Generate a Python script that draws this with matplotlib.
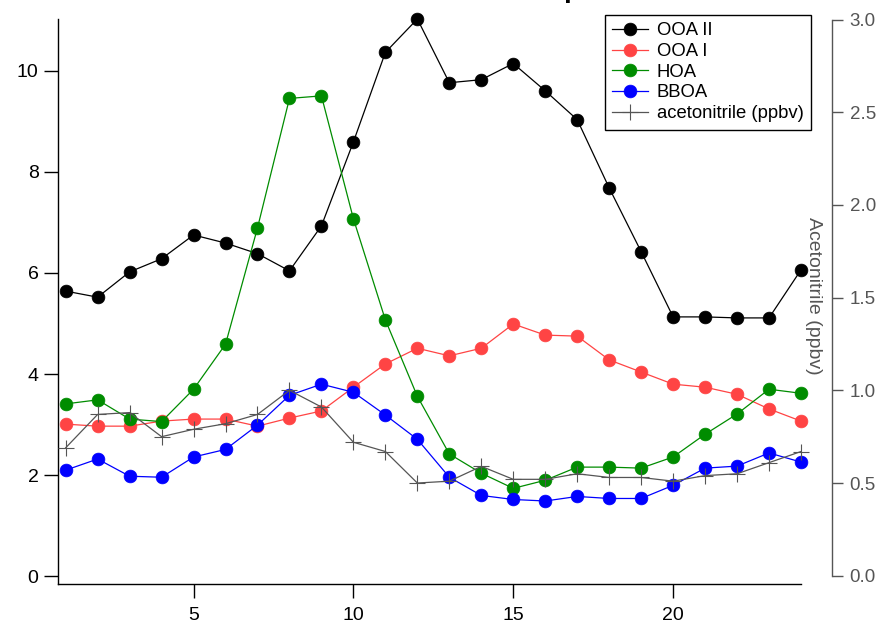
import matplotlib
matplotlib.use("Agg")
import matplotlib.pyplot as plt

plt.rcParams['font.family'] = ['Liberation Sans', 'DejaVu Sans']

hours = list(range(1, 25))

ooa2 = [5.64, 5.52, 6.02, 6.28, 6.75, 6.59, 6.38, 6.04, 6.93, 8.59, 10.36, 11.02,
        9.76, 9.82, 10.14, 9.60, 9.03, 7.68, 6.42, 5.13, 5.13, 5.11, 5.11, 6.06]
ooa1 = [3.01, 2.97, 2.97, 3.07, 3.11, 3.11, 2.97, 3.13, 3.27, 3.74, 4.20, 4.51,
        4.36, 4.51, 4.99, 4.77, 4.75, 4.28, 4.04, 3.80, 3.74, 3.60, 3.31, 3.07]
hoa = [3.41, 3.49, 3.11, 3.06, 3.70, 4.59, 6.89, 9.45, 9.50, 7.07, 5.07, 3.56,
       2.42, 2.04, 1.74, 1.90, 2.16, 2.16, 2.14, 2.36, 2.81, 3.21, 3.70, 3.62]
bboa = [2.10, 2.32, 1.98, 1.96, 2.36, 2.51, 2.99, 3.58, 3.80, 3.64, 3.19, 2.71,
        1.96, 1.60, 1.52, 1.49, 1.58, 1.54, 1.54, 1.80, 2.14, 2.18, 2.44, 2.26]
acetonitrile = [0.69, 0.87, 0.88, 0.75, 0.79, 0.82, 0.87, 1.00, 0.91, 0.72, 0.67, 0.50,
                0.51, 0.59, 0.52, 0.52, 0.55, 0.53, 0.53, 0.51, 0.54, 0.55, 0.61, 0.67]

series = [
    ('OOA II', ooa2, 'black'),
    ('OOA I', ooa1, '#ff4444'),
    ('HOA', hoa, '#008c00'),
    ('BBOA', bboa, '#0000ff'),
]

grey = '#555555'

fig = plt.figure(figsize=(8.76, 6.28), dpi=100)
ax = fig.add_axes([58 / 876, 1 - 583.7 / 628, 743 / 876, 564.7 / 628])
ax2 = ax.twinx()

handles = []
for name, vals, col in series:
    h, = ax.plot(hours, vals, color=col, lw=0.9, marker='o', ms=9.2,
                 mec=col, mew=0.5, label=name, clip_on=False)
    handles.append(h)

h, = ax2.plot(hours, acetonitrile, color=grey, lw=0.9, marker='+', ms=11,
              mew=0.8, label='acetonitrile (ppbv)', clip_on=False)
handles.append(h)

ax.set_xlim(0.76, 24.0)
ax.set_ylim(-0.145, 11.02)
ax2.set_ylim(-0.043, 3.003)

ax.set_xticks([5, 10, 15, 20])
ax.set_yticks([0, 2, 4, 6, 8, 10])
ax2.set_yticks([0.0, 0.5, 1.0, 1.5, 2.0, 2.5, 3.0])
ax2.set_yticklabels(['0.0', '0.5', '1.0', '1.5', '2.0', '2.5', '3.0'])

for s in ['top', 'right']:
    ax.spines[s].set_visible(False)
for s in ['top', 'left', 'bottom']:
    ax2.spines[s].set_visible(False)
ax.spines['left'].set_linewidth(1.0)
ax.spines['bottom'].set_linewidth(1.0)

ax2.spines['right'].set_position(('outward', 22))
ax2.spines['right'].set_bounds(0, 3)
ax2.spines['right'].set_color(grey)
ax2.spines['right'].set_linewidth(1.0)

ax.tick_params(axis='both', direction='out', length=10, width=1.0,
               labelsize=14, colors='black')
ax.tick_params(axis='x', pad=7)
ax.tick_params(axis='y', pad=4)
ax2.tick_params(axis='y', direction='out', length=8, width=1.0, labelsize=13.5,
                colors=grey, pad=5)

ax2.set_ylabel('Acetonitrile (ppbv)', rotation=-90, fontsize=14, color=grey,
               ha='center', va='center')
ax2.yaxis.set_label_coords(1.0168, 0.5095)

leg = fig.legend(handles=handles, loc='upper right',
                 bbox_to_anchor=(811 / 876, 1 - 15 / 628),
                 bbox_transform=fig.transFigure, fontsize=13.3,
                 frameon=True, fancybox=False, framealpha=1, borderaxespad=0,
                 labelspacing=0.2, handlelength=1.9, handletextpad=0.5,
                 borderpad=0.4)
leg.get_frame().set_edgecolor('black')
leg.get_frame().set_linewidth(1.0)

# title sits mostly above the canvas, only the descender shows
fig.text(461 / 876, 1 + 3 / 628, 'Diurnal profiles', fontsize=20,
         fontweight='bold', ha='left', va='baseline')

fig.savefig('out.png', dpi=100)
